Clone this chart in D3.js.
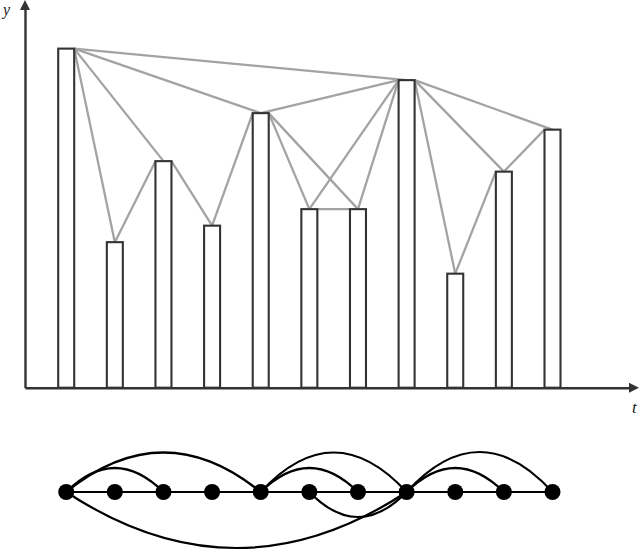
<!DOCTYPE html>
<html>
<head>
<meta charset="utf-8">
<script src="https://cdn.jsdelivr.net/npm/d3@7"></script>
<style>
html,body{margin:0;padding:0;background:#fff;}
svg{display:block;}
</style>
</head>
<body>
<svg id="chart" width="640" height="550"></svg>
<script>
// ---- data ----
const categories = ["1","2","3","4","5","6","7","8","9","10","11"];
const values = [11.3, 4.85, 7.55, 5.4, 9.15, 5.95, 5.95, 10.25, 3.8, 7.2, 8.6];
// visibility links (0-based indices)
const links = [[0,1],[0,2],[0,4],[0,7],[1,2],[2,3],[3,4],[4,5],[4,6],[4,7],[5,6],[5,7],[6,7],[7,8],[7,9],[7,10],[8,9],[9,10]];
const axisLabels = ["y","t"];

// ---- layout ----
const svg = d3.select("#chart");
const baseY = 387.7;
const x = d3.scalePoint().domain(categories).range([66.2, 552.5]);
const y = d3.scaleLinear().domain([0, 12.92]).range([baseY, 0]);
const halfW = 8;
const gray = "#a3a3a3", dark = "#333";

// axes via d3 axis generators (domain line only)
const xAxisScale = d3.scaleLinear().domain([0,1]).range([25, 631]);
const yAxisScale = d3.scaleLinear().domain([0,1]).range([baseY, 9]);
const gx = svg.append("g").attr("transform", `translate(0,${baseY})`)
  .call(d3.axisBottom(xAxisScale).tickValues([]).tickSizeOuter(0));
const gy = svg.append("g").attr("transform", `translate(25,0)`)
  .call(d3.axisLeft(yAxisScale).tickValues([]).tickSizeOuter(0));
[gx, gy].forEach(g => g.select(".domain").attr("stroke", dark).attr("stroke-width", 2.4));
// arrowheads
svg.append("path").attr("d", `M639,${baseY} L629,${baseY-5} L629,${baseY+5} Z`).attr("fill", dark);
svg.append("path").attr("d", `M25,0 L20,10 L30,10 Z`).attr("fill", dark);
// axis labels
svg.append("text").attr("x", 3).attr("y", 15).text(axisLabels[0])
  .attr("font-family", "Liberation Serif, serif").attr("font-style", "italic").attr("font-size", 16).attr("fill", "#222");
svg.append("text").attr("x", 632).attr("y", 413).text(axisLabels[1])
  .attr("font-family", "Liberation Serif, serif").attr("font-style", "italic").attr("font-size", 17).attr("fill", "#222");

// grey visibility lines
function anchor(i, j) {
  const c = x(categories[i]);
  if (values[i] >= values[j]) return c + (j > i ? halfW : -halfW);
  return c;
}
svg.append("g").selectAll("line").data(links).join("line")
  .attr("x1", d => anchor(d[0], d[1]))
  .attr("y1", d => y(values[d[0]]))
  .attr("x2", d => anchor(d[1], d[0]))
  .attr("y2", d => y(values[d[1]]))
  .attr("stroke", gray).attr("stroke-width", 2.3);

// bars
svg.append("g").selectAll("rect").data(values).join("rect")
  .attr("x", (d,i) => x(categories[i]) - halfW)
  .attr("y", d => y(d))
  .attr("width", halfW*2)
  .attr("height", d => baseY - y(d))
  .attr("fill", "none").attr("stroke", dark).attr("stroke-width", 2.1);

// ---- bottom graph ----
const gy0 = 492;
const arcDepth = { "0-2": -24, "0-4": -39.5, "4-6": -24, "4-7": -39.5, "7-9": -24, "7-10": -40, "0-7": 56, "5-7": 25 };
const g2 = svg.append("g");
g2.append("line").attr("x1", x(categories[0])).attr("x2", x(categories[categories.length-1]))
  .attr("y1", gy0).attr("y2", gy0).attr("stroke", "#000").attr("stroke-width", 2.2);
const arcs = links.filter(d => d[1] - d[0] > 1);
g2.selectAll("path.arc").data(arcs).join("path").attr("class","arc")
  .attr("d", d => {
    const x1 = x(categories[d[0]]), x2 = x(categories[d[1]]);
    const h = arcDepth[d[0]+"-"+d[1]];
    const p = d3.path();
    p.moveTo(x1, gy0);
    p.quadraticCurveTo((x1+x2)/2, gy0 + 2*h, x2, gy0);
    return p.toString();
  })
  .attr("fill", "none").attr("stroke", "#000").attr("stroke-width", 2.2);
g2.selectAll("circle").data(categories).join("circle")
  .attr("cx", d => x(d)).attr("cy", gy0).attr("r", 8).attr("fill", "#000");
</script>
</body>
</html>
